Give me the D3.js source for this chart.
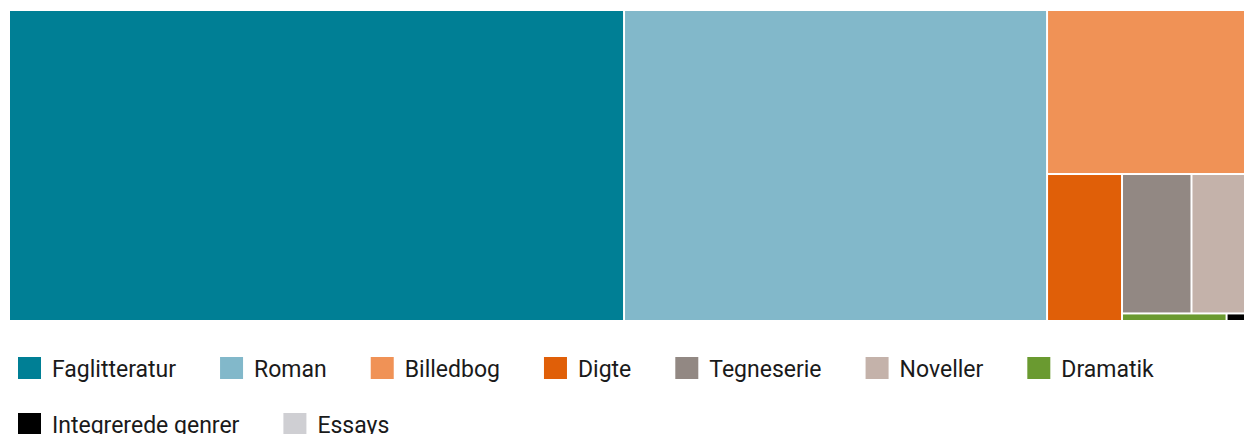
<!DOCTYPE html>
<html>
<head>
<meta charset="utf-8">
<script src="https://cdn.jsdelivr.net/npm/d3@7"></script>
<style>
  html, body { margin: 0; padding: 0; background: #ffffff; }
  svg { display: block; }
  text { font-family: "Roboto", "Noto Sans", sans-serif; }
</style>
</head>
<body>
<svg id="chart" width="1244" height="434"></svg>
<script>
// Data (share, %)
const categories = ["Faglitteratur", "Roman", "Billedbog", "Digte", "Tegneserie", "Noveller", "Dramatik", "Integrerede genrer", "Essays"];
const values     = [49.76, 34.28, 8.42, 2.87, 2.54, 1.92, 0.18, 0.03, 0];
const colors     = ["#007f95", "#82b8ca", "#f09256", "#e05f08", "#928883", "#c4b2aa", "#6a9a30", "#000000", "#cfcfd3"];

const svg = d3.select("#chart");
const area = {x0: 10, y0: 11, x1: 1244, y1: 320};

// squarified layout computed in a slightly widened space, then mapped to pixels
const stretch = 1.165, squareRatio = 1.16;
const LW = (area.x1 - area.x0) * stretch, LH = area.y1 - area.y0;

const root = d3.hierarchy({children: categories.map((c, i) => ({name: c, value: values[i], color: colors[i]}))})
  .sum(d => d.value || 0)
  .sort((a, b) => b.value - a.value);

d3.treemap()
  .tile(d3.treemapSquarify.ratio(squareRatio))
  .size([LW, LH])
  .round(false)(root);

const sx = d3.scaleLinear().domain([0, LW]).range([area.x0, area.x1]);
const sy = d3.scaleLinear().domain([0, LH]).range([area.y0, area.y1]);
const eps = 1e-6, half = 1;
const rx0 = d => sx(d.x0) + (d.x0 > eps ? half : 0);
const rx1 = d => sx(d.x1) - (d.x1 < LW - eps ? half : 0);
const ry0 = d => sy(d.y0) + (d.y0 > eps ? half : 0);
const ry1 = d => sy(d.y1) - (d.y1 < LH - eps ? half : 0);

svg.append("g").selectAll("rect")
  .data(root.leaves().filter(d => d.value > 0))
  .join("rect")
  .attr("x", rx0)
  .attr("y", ry0)
  .attr("width", d => Math.max(0, rx1(d) - rx0(d)))
  .attr("height", d => Math.max(0, ry1(d) - ry0(d)))
  .attr("fill", d => d.data.color);

// Legend (flow layout)
const legend = svg.append("g");
const sw = 23, textGap = 11, itemGap = 44, rowH = 56, startX = 18, startY = 357, maxX = 1234;
let x = startX, y = startY;
categories.forEach((c, i) => {
  const item = legend.append("g");
  const t = item.append("text")
    .attr("x", sw + textGap)
    .attr("y", 20)
    .attr("font-size", 23)
    .attr("fill", "#1a1a1a")
    .text(c);
  const tw = t.node().getComputedTextLength();
  const wItem = sw + textGap + tw;
  if (x + wItem > maxX) { x = startX; y += rowH; }
  item.attr("transform", `translate(${x},${y})`);
  item.insert("rect", "text")
    .attr("width", sw).attr("height", sw - 1)
    .attr("fill", colors[i]);
  x += wItem + itemGap;
});
</script>
</body>
</html>
